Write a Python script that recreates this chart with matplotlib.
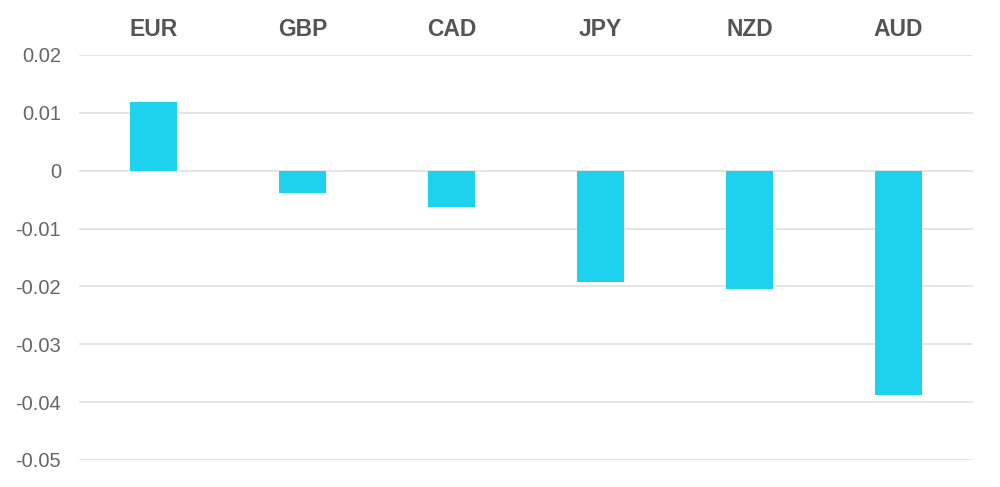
import matplotlib
matplotlib.use("Agg")
import matplotlib.pyplot as plt

categories = ["EUR", "GBP", "CAD", "JPY", "NZD", "AUD"]
values = [0.0119, -0.0038, -0.0063, -0.0192, -0.0204, -0.0388]
yticks = [0.02, 0.01, 0, -0.01, -0.02, -0.03, -0.04, -0.05]
ytick_labels = ["0.02", "0.01", "0", "-0.01", "-0.02", "-0.03", "-0.04", "-0.05"]

plt.rcParams['font.family'] = ['Liberation Sans', 'DejaVu Sans']

fig = plt.figure(figsize=(10, 4.87), dpi=100)
ax = fig.add_axes([79/1000, (487-460)/487, (973-79)/1000, (460-55)/487])

x = list(range(len(categories)))
ax.bar(x, values, width=0.313, color="#1ED2EE", zorder=3)

ax.set_xlim(-0.5, len(categories) - 0.5)
ax.set_ylim(-0.05, 0.02)
ax.set_yticks(yticks)
ax.set_yticklabels(ytick_labels)
ax.grid(axis='y', color='#e0e0e0', linewidth=1.2, zorder=0)
ax.xaxis.tick_top()
ax.set_xticks(x)
ax.set_xticklabels(categories)
for s in ax.spines.values():
    s.set_visible(False)
ax.tick_params(axis='x', length=0, pad=10, labelsize=16.5, colors='#555555')
ax.tick_params(axis='y', length=0, pad=13, labelsize=14.5, colors='#666666')
for lbl in ax.get_xticklabels():
    lbl.set_fontweight('bold')

fig.savefig("out.png", dpi=100)
